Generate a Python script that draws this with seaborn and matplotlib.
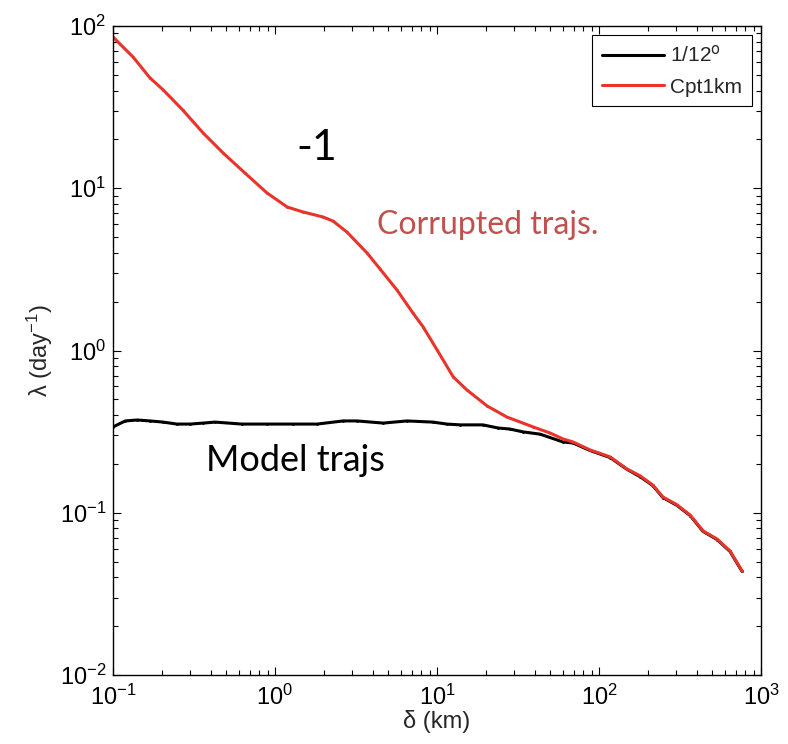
import numpy as np
import pandas as pd
import matplotlib
matplotlib.use("Agg")
import matplotlib.pyplot as plt
import seaborn as sns

# Separation scale delta (km) and FSLE lambda (day^-1)
model_delta = [0.100, 0.119, 0.141, 0.169, 0.204, 0.248, 0.299, 0.360, 0.427, 0.625,
               0.893, 1.29, 1.82, 2.63, 3.21, 4.65, 6.53, 9.44, 11.5, 13.9,
               19.2, 23.8, 28.2, 34.0, 43.3, 60.0, 69.2, 87.9, 117, 149,
               179, 215, 248, 303, 365, 439, 535, 644, 764]
model_lambda = [0.338, 0.368, 0.373, 0.368, 0.362, 0.352, 0.352, 0.357, 0.362, 0.352,
                0.352, 0.352, 0.352, 0.368, 0.368, 0.357, 0.368, 0.362, 0.352, 0.348,
                0.348, 0.333, 0.328, 0.315, 0.305, 0.273, 0.269, 0.242, 0.219, 0.185,
                0.167, 0.147, 0.124, 0.111, 0.0961, 0.0767, 0.0684, 0.0577, 0.0435]

cpt_delta = [0.100, 0.133, 0.169, 0.204, 0.270, 0.360, 0.478, 0.653, 0.893, 1.19,
             1.49, 1.98, 2.28, 2.78, 3.70, 4.45, 5.66, 7.11, 8.20, 10.0,
             12.6, 15.3, 20.4, 27.0, 39.2, 49.9, 60.0, 69.2, 87.9, 117,
             149, 179, 215, 248, 303, 365, 439, 535, 644, 764]
cpt_lambda = [85.5, 64.4, 47.9, 40.4, 30.3, 21.9, 16.5, 12.4, 9.35, 7.66,
              7.14, 6.65, 6.28, 5.37, 3.99, 3.18, 2.36, 1.70, 1.40, 1.01,
              0.687, 0.571, 0.455, 0.389, 0.338, 0.310, 0.285, 0.273, 0.244, 0.221,
              0.186, 0.169, 0.148, 0.125, 0.112, 0.0968, 0.0773, 0.0689, 0.0581, 0.0438]

series_labels = ["1/12$^\\mathrm{o}$", "Cpt1km"]
series_colors = ["#000000", "#e8342a"]

df = pd.concat([
    pd.DataFrame({"delta": model_delta, "lam": model_lambda, "run": series_labels[0]}),
    pd.DataFrame({"delta": cpt_delta, "lam": cpt_lambda, "run": series_labels[1]}),
], ignore_index=True)

sns.set_style("white")
plt.rcParams["font.family"] = ["Liberation Sans", "DejaVu Sans"]
plt.rcParams["mathtext.default"] = "regular"

fig = plt.figure(figsize=(7.88, 7.44), dpi=100)
ax = fig.add_axes([113 / 788, 1 - 675 / 744, 648 / 788, 649 / 744])

sns.lineplot(data=df, x="delta", y="lam", hue="run", palette=series_colors,
             hue_order=series_labels, estimator=None, sort=False,
             marker=".", markersize=4, markeredgewidth=0, linewidth=2.2, ax=ax)

ax.set_xscale("log")
ax.set_yscale("log")
ax.set_xlim(0.1, 1000)
ax.set_ylim(0.01, 100)

for s in ax.spines.values():
    s.set_color("black")
    s.set_linewidth(1.0)
ax.tick_params(which="both", direction="in", top=True, right=True,
               bottom=True, left=True, colors="black", labelsize=17)
ax.tick_params(which="major", length=6, width=0.8)
ax.tick_params(which="minor", length=3.5, width=0.8)
ax.tick_params(axis="x", which="major", pad=7)
ax.tick_params(axis="y", which="major", pad=5)

ax.set_xlabel("δ (km)", fontsize=17, labelpad=0)
ax.set_ylabel("λ (day$^{-1}$)", fontsize=17, labelpad=3)

leg = ax.legend(loc="upper right", fontsize=15, frameon=True, fancybox=False,
                edgecolor="black", framealpha=1, borderpad=0.45,
                labelspacing=0.55, handlelength=3.0, handletextpad=0.3,
                borderaxespad=0.45)
leg.get_frame().set_linewidth(0.8)

ax.text(0.315, 0.812, "-1", transform=ax.transAxes, fontsize=31,
        family=["Lato", "DejaVu Sans"], color="black", ha="center", va="center")
ax.text(0.578, 0.694, "Corrupted trajs.", transform=ax.transAxes, fontsize=23,
        family=["Lato", "DejaVu Sans"], color="#c0504d", ha="center", va="center")
ax.text(0.281, 0.331, "Model trajs", transform=ax.transAxes, fontsize=26,
        family=["Lato", "DejaVu Sans"], color="black", ha="center", va="center")

fig.savefig("out.png", dpi=100)
